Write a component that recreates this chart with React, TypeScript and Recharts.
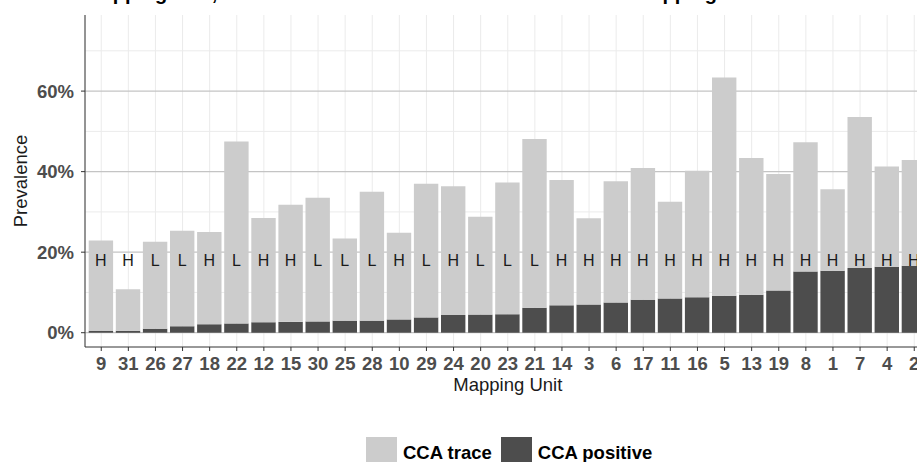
import { BarChart, Bar, XAxis, YAxis, CartesianGrid, LabelList } from 'recharts'

// mapping units, ordered as in the figure
const units = ['9', '31', '26', '27', '18', '22', '12', '15', '30', '25', '28', '10', '29', '24', '20', '23', '21', '14', '3', '6', '17', '11', '16', '5', '13', '19', '8', '1', '7', '4', '2']

// CCA positive prevalence (%)
const positive = [0.5, 0.5, 1.0, 1.6, 2.1, 2.3, 2.6, 2.7, 2.8, 3.0, 3.0, 3.3, 3.8, 4.4, 4.5, 4.6, 6.2, 6.8, 7.0, 7.5, 8.2, 8.5, 8.8, 9.2, 9.4, 10.5, 15.2, 15.4, 16.1, 16.4, 16.6]

// CCA trace prevalence (%), stacked on top of positive
const trace = [22.4, 10.3, 21.6, 23.7, 22.9, 45.2, 25.9, 29.1, 30.7, 20.4, 32.0, 21.5, 33.2, 32.0, 24.3, 32.7, 41.9, 31.1, 21.4, 30.1, 32.7, 24.0, 31.4, 54.2, 34.0, 28.9, 32.1, 20.2, 37.5, 24.9, 26.3]

// risk class printed on each bar
const risk = ['H', 'H', 'L', 'L', 'H', 'L', 'H', 'H', 'L', 'L', 'L', 'H', 'L', 'H', 'L', 'L', 'L', 'H', 'H', 'H', 'H', 'H', 'H', 'H', 'H', 'H', 'H', 'H', 'H', 'H', 'H']

const yTicks = [0, 20, 40, 60]
const yMinor = [10, 30, 50, 70]

const FONT = '"Liberation Sans", Arial, sans-serif'
const Y_MIN = -3.55
const Y_MAX = 78.9
const PLOT_H = 332
const PX_PER_PCT = PLOT_H / (Y_MAX - Y_MIN)

const data = units.map((u, i) => ({
  unit: u,
  positive: positive[i],
  trace: trace[i],
  risk: risk[i],
}))

const renderRisk = (props: any) => {
  const vb = props.viewBox && props.viewBox.width != null ? props.viewBox : props
  const zeroY = vb.y + vb.height
  return (
    <text
      x={vb.x + vb.width / 2}
      y={zeroY - 18 * PX_PER_PCT + 5.8}
      textAnchor="middle"
      fontSize={16}
      fontFamily={FONT}
      fill="#1a1a1a"
    >
      {props.value}
    </text>
  )
}

function LegendKey({ color, label }: { color: string; label: string }) {
  return (
    <div style={{ display: 'flex', alignItems: 'center', marginRight: 9 }}>
      <div style={{ width: 31, height: 31, background: color }} />
      <span style={{ marginLeft: 6, fontSize: 18.5, fontWeight: 'bold', color: '#000' }}>{label}</span>
    </div>
  )
}

export default function App() {
  return (
    <div
      style={{
        position: 'absolute',
        left: 0,
        top: 0,
        width: 917,
        height: 462,
        overflow: 'hidden',
        background: '#fff',
        fontFamily: FONT,
      }}
    >
      <BarChart
        width={950}
        height={470}
        data={data}
        margin={{ top: 15, right: 19.5, left: 0, bottom: 73 }}
        barSize={24.4}
      >
        <CartesianGrid vertical={true} horizontalValues={yMinor} stroke="#ebebeb" strokeWidth={1} />
        <CartesianGrid vertical={false} horizontalValues={yTicks} stroke="#c4c4c4" strokeWidth={1.3} />
        <XAxis
          dataKey="unit"
          interval={0}
          padding={{ left: 2.7, right: 2.7 }}
          height={50}
          tickSize={4}
          tickMargin={6}
          axisLine={{ stroke: '#333333' }}
          tickLine={{ stroke: '#333333' }}
          tick={{ fontSize: 18.5, fontWeight: 'bold', fill: '#4d4d4d', fontFamily: FONT }}
        />
        <XAxis
          xAxisId="top"
          dataKey="unit"
          orientation="top"
          height={0}
          tick={false}
          tickLine={false}
          axisLine={{ stroke: '#333333' }}
        />
        <YAxis
          type="number"
          width={85}
          domain={[Y_MIN, Y_MAX]}
          allowDataOverflow
          ticks={yTicks}
          tickFormatter={(v: number) => `${v}%`}
          tickSize={4}
          tickMargin={7}
          axisLine={{ stroke: '#333333' }}
          tickLine={{ stroke: '#333333' }}
          tick={{ fontSize: 18.5, fontWeight: 'bold', fill: '#4d4d4d', fontFamily: FONT }}
        />
        <Bar dataKey="positive" stackId="a" fill="#4d4d4d" isAnimationActive={false}>
          <LabelList dataKey="risk" content={renderRisk} />
        </Bar>
        <Bar dataKey="trace" stackId="a" fill="#cccccc" isAnimationActive={false} />
        <text x={85} y={-0.5} fontSize={20} fontWeight="bold" fontFamily={FONT} fill="#000">
          Mapping Unit, CCA Trace and CCA Positive Prevalence in Mapping Unit
        </text>
        <text
          x={27}
          y={181}
          transform="rotate(-90, 27, 181)"
          textAnchor="middle"
          fontSize={18.5}
          fontFamily={FONT}
          fill="#1a1a1a"
        >
          Prevalence
        </text>
        <text x={507.8} y={391} textAnchor="middle" fontSize={18.5} fontFamily={FONT} fill="#1a1a1a">
          Mapping Unit
        </text>
      </BarChart>
      <div style={{ position: 'absolute', left: 366, top: 437, display: 'flex' }}>
        <LegendKey color="#cccccc" label="CCA trace" />
        <LegendKey color="#4d4d4d" label="CCA positive" />
      </div>
    </div>
  )
}
